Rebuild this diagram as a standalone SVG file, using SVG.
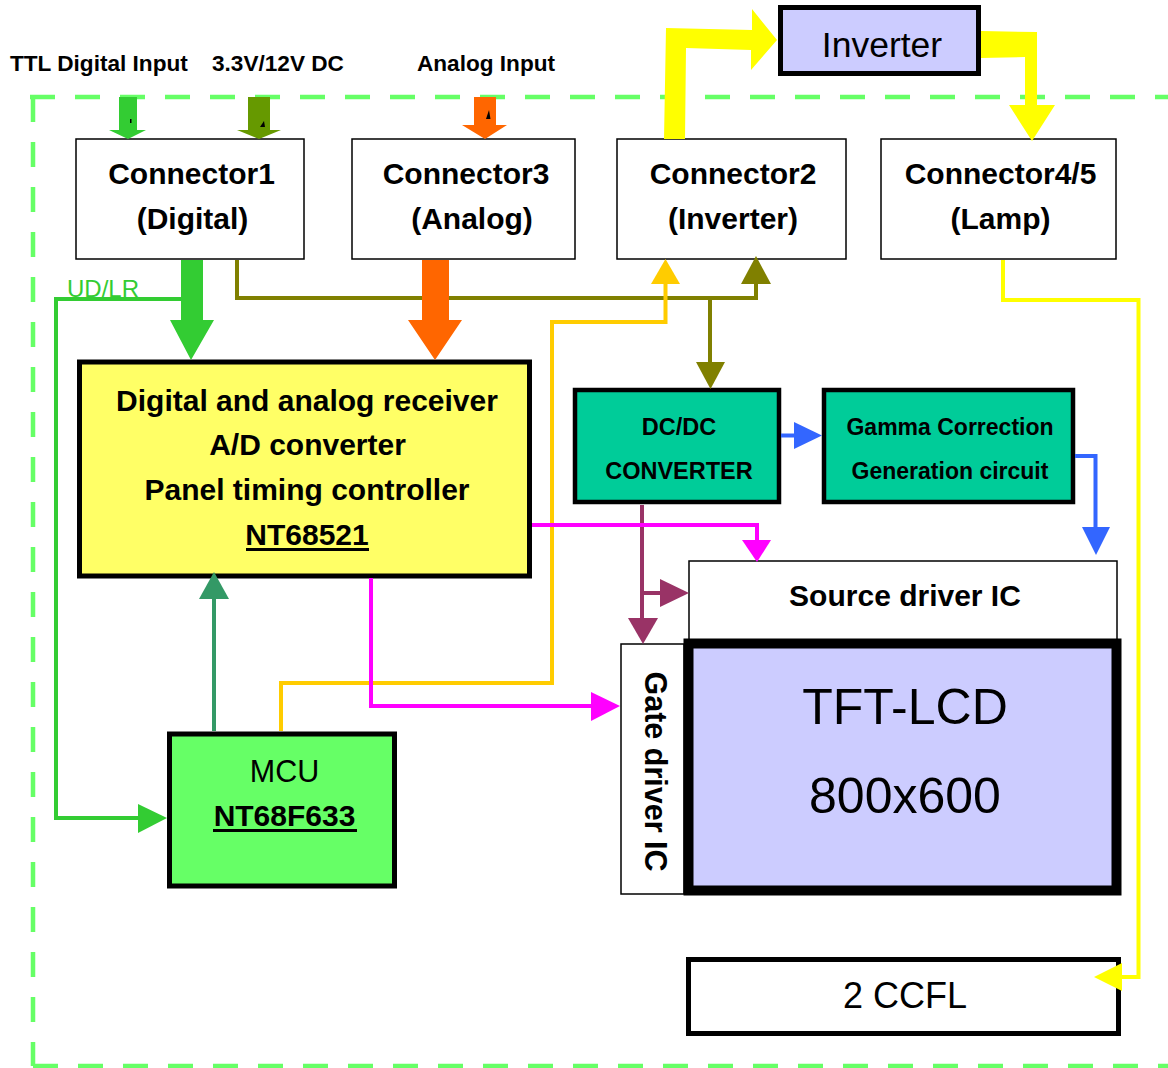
<svg xmlns="http://www.w3.org/2000/svg" width="1168" height="1068" viewBox="0 0 1168 1068">
<style>
text { font-family: "Liberation Sans", Arial, sans-serif; fill: #000; }
.b { font-weight: bold; }
.c { font-size: 30px; font-weight: bold; text-anchor: middle; }
.lbl { font-size: 22.6px; font-weight: bold; }
.box { fill: #fff; stroke: #000; stroke-width: 1.5; }
.ln { fill: none; stroke-width: 4; stroke-linecap: butt; stroke-linejoin: miter; }
.dash { fill: none; stroke: #66FF66; stroke-width: 4.5; stroke-dasharray: 25 20; }
</style>

<g id="border">
  <line class="dash" x1="30" y1="97" x2="1168" y2="97"/>
  <line class="dash" x1="33" y1="97" x2="33" y2="1066"/>
  <line class="dash" x1="33" y1="1066" x2="1168" y2="1066"/>
</g>

<g id="labels">
  <text class="lbl" x="10" y="71">TTL Digital Input</text>
  <text class="lbl" x="212" y="71">3.3V/12V DC</text>
  <text class="lbl" x="417" y="71">Analog Input</text>
</g>

<g id="inverter">
  <rect x="780.5" y="7.5" width="198" height="66" fill="#CCCCFF" stroke="#000" stroke-width="5"/>
  <text x="882" y="57" font-size="35.5" text-anchor="middle">Inverter</text>
</g>

<g id="connector1">
  <rect class="box" x="76" y="139" width="228" height="120"/>
  <text class="c" x="191.5" y="184">Connector1</text>
  <text class="c" x="192.5" y="229">(Digital)</text>
</g>
<g id="connector3">
  <rect class="box" x="352" y="139" width="223" height="120"/>
  <text class="c" x="466" y="184">Connector3</text>
  <text class="c" x="472" y="229">(Analog)</text>
</g>
<g id="connector2">
  <rect class="box" x="617" y="139" width="229" height="120"/>
  <text class="c" x="733" y="184">Connector2</text>
  <text class="c" x="733" y="229">(Inverter)</text>
</g>
<g id="connector45">
  <rect class="box" x="881" y="139" width="235" height="120"/>
  <text class="c" x="1000.5" y="184">Connector4/5</text>
  <text class="c" x="1000.5" y="229">(Lamp)</text>
</g>

<g id="receiver">
  <rect x="79.5" y="362" width="450" height="214" fill="#FFFF66" stroke="#000" stroke-width="5"/>
  <text class="c" x="307" y="411">Digital and analog receiver</text>
  <text class="c" x="307.5" y="455">A/D converter</text>
  <text class="c" x="307" y="500">Panel timing controller</text>
  <text class="c" x="307" y="545">NT68521</text>
  <line x1="246" y1="549.5" x2="369" y2="549.5" stroke="#000" stroke-width="3"/>
</g>

<g id="dcdc">
  <rect x="575" y="390" width="204" height="112" fill="#00CC99" stroke="#000" stroke-width="4.5"/>
  <text x="679" y="435" font-size="23.5" class="b" text-anchor="middle">DC/DC</text>
  <text x="679" y="479" font-size="23.5" class="b" text-anchor="middle">CONVERTER</text>
</g>

<g id="gamma">
  <rect x="824" y="390" width="249" height="112" fill="#00CC99" stroke="#000" stroke-width="4.5"/>
  <text x="950" y="435" font-size="23" class="b" text-anchor="middle">Gamma Correction</text>
  <text x="950" y="479" font-size="23" class="b" text-anchor="middle">Generation circuit</text>
</g>

<g id="mcu">
  <rect x="169.5" y="734" width="225" height="152" fill="#66FF66" stroke="#000" stroke-width="5"/>
  <text x="284.5" y="782" font-size="30.5" text-anchor="middle">MCU</text>
  <text class="c" x="284.5" y="826">NT68F633</text>
  <line x1="213" y1="830.5" x2="357" y2="830.5" stroke="#000" stroke-width="3"/>
</g>

<g id="source-driver">
  <rect class="box" x="689" y="561" width="428" height="90"/>
  <text x="905" y="606" font-size="30" class="b" text-anchor="middle">Source driver IC</text>
</g>

<g id="gate-driver">
  <rect class="box" x="621" y="644" width="63" height="250"/>
  <text x="645" y="771.5" font-size="30.5" class="b" text-anchor="middle" transform="rotate(90 645 771.5)">Gate driver IC</text>
</g>

<g id="tft-lcd">
  <rect x="688.5" y="643.5" width="428" height="247" fill="#CCCCFF" stroke="#000" stroke-width="10"/>
  <text x="905" y="724" font-size="50" text-anchor="middle">TFT-LCD</text>
  <text x="905" y="813" font-size="50" text-anchor="middle">800x600</text>
</g>

<g id="ccfl">
  <rect x="688.5" y="959.5" width="430" height="74" fill="#fff" stroke="#000" stroke-width="5"/>
  <text x="905" y="1008" font-size="36" text-anchor="middle">2 CCFL</text>
</g>

<g id="connectors">
  <!-- input arrows -->
  <polygon fill="#33CC33" points="119,97 137,97 137,130 146,130 128,139 109,130 119,130"/>
  <polygon fill="#669900" points="248,97 270,97 270,130 281,130 259,139 237,130 248,130"/>
  <polygon fill="#FF6600" points="474,97 496,97 496,125 507,125 485,139 462,125 474,125"/>
  <polygon fill="#000" points="130,119 131.5,119 131.5,123 130,123"/>
  <polygon fill="#000" points="264,121 265,127 260,127"/>
  <polygon fill="#000" points="489,110 490.5,119 486,119"/>

  <!-- inverter yellow thick arrows -->
  <polygon fill="#FFFF00" points="664,139 666,28 752,30 752,9 777,40 751,70 751,50 686,48 685,139"/>
  <polygon fill="#FFFF00" points="981,31 1037,32 1037,105 1055,105 1032,141 1009,105 1025,105 1025,57 981,58"/>

  <!-- olive power bus -->
  <path class="ln" stroke="#808000" d="M237,260 V298 H756 V283"/>
  <polygon fill="#808000" points="741,284 771,284 756,256"/>
  <path class="ln" stroke="#808000" d="M710,298 V362"/>
  <polygon fill="#808000" points="696,362 725,362 710.5,389"/>

  <!-- thick green and orange -->
  <polygon fill="#33CC33" points="181,260 203,260 203,320 214,320 191,360 170,320 181,320"/>
  <polygon fill="#FF6600" points="422,260 449,260 449,320 462,320 435,360 408,320 422,320"/>

  <!-- UD/LR -->
  <path class="ln" stroke="#33CC33" d="M181,299 H56 V818 H140"/>
  <polygon fill="#33CC33" points="138,804 167,818 138,833"/>
  <text x="67" y="297" font-size="24" style="fill:#33CC33">UD/LR</text>

  <!-- gold MCU to connector2 -->
  <path class="ln" stroke="#FFCC00" d="M281,731 V683 H552 V322 H665.5 V283"/>
  <polygon fill="#FFCC00" points="651,284 680,284 665.5,259"/>

  <!-- teal MCU to receiver -->
  <path class="ln" stroke="#339966" d="M214,731 V598"/>
  <polygon fill="#339966" points="199,599 229,599 214,572"/>

  <!-- purple DC/DC -->
  <path class="ln" stroke="#993366" d="M642,505 V618 M642,593 H661"/>
  <polygon fill="#993366" points="628,618 658,618 643,644"/>
  <polygon fill="#993366" points="660,579 689,593 660,607"/>

  <!-- magenta -->
  <path class="ln" stroke="#FF00FF" d="M371,578 V706 H592"/>
  <polygon fill="#FF00FF" points="591,692 620,706 591,721"/>
  <path class="ln" stroke="#FF00FF" d="M532,525 H757 V541"/>
  <polygon fill="#FF00FF" points="742,540 771,540 757,562"/>

  <!-- blue -->
  <path class="ln" stroke="#3366FF" d="M781,435.5 H796"/>
  <polygon fill="#3366FF" points="794,422 822,435.5 794,449"/>
  <path class="ln" stroke="#3366FF" d="M1075,456 H1095.5 V528"/>
  <polygon fill="#3366FF" points="1082,527 1110,527 1096,555"/>

  <!-- lamp yellow -->
  <path class="ln" stroke="#FFFF00" d="M1003,260 V300 H1138.5 V977 H1121"/>
  <polygon fill="#FFFF00" points="1122,963 1094,977 1122,991"/>
</g>
</svg>
